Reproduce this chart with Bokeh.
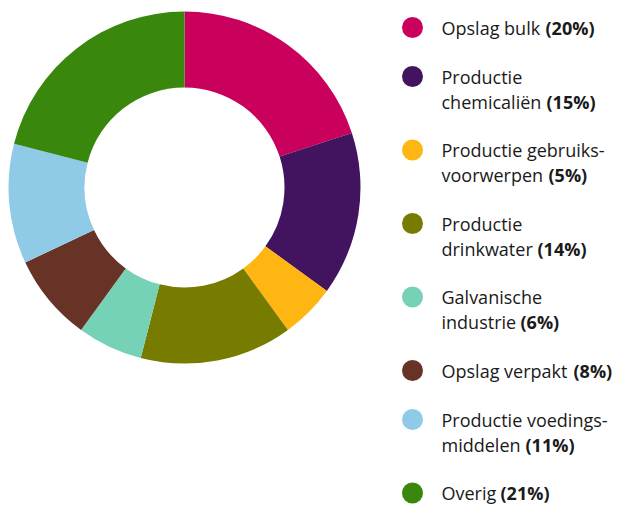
import numpy as np
from bokeh.plotting import figure
from bokeh.models import Range1d, ColumnDataSource
from bokeh.core.properties import value
from bokeh.embed import file_html
from bokeh.resources import INLINE

# ---- data ----
labels = ["Opslag bulk", "Productie\nchemicaliën", "Productie gebruiks-\nvoorwerpen",
          "Productie\ndrinkwater", "Galvanische\nindustrie", "Opslag verpakt",
          "Productie voedings-\nmiddelen", "Overig"]
shares = [20, 15, 5, 14, 6, 8, 11, 21]
colors = ["#CA005D", "#42145F", "#FFB612", "#777C00", "#76D2B6", "#673327", "#8FCAE7", "#39870C"]

# ---- layout (pixels in page coordinates) ----
W, H = 619, 509
def px(x): return x
def py(y): return H - y

FONT = "Open Sans"
FS = "18px"
TXT = "#1a1a1a"

p = figure(width=W, height=H, output_backend="svg", toolbar_location=None,
           x_range=Range1d(0, W), y_range=Range1d(0, H), min_border=0)
p.axis.visible = False
p.grid.visible = False
p.outline_line_color = None
p.background_fill_color = "white"
p.border_fill_color = "white"

vals = np.array(shares, dtype=float)
frac = vals / vals.sum()
cum_end = np.cumsum(frac)
cum_start = cum_end - frac
start = np.pi / 2 - 2 * np.pi * cum_end
end = np.pi / 2 - 2 * np.pi * cum_start

src = ColumnDataSource(dict(start=start, end=end, color=colors))
p.annular_wedge(x=px(184), y=py(187), inner_radius=100, outer_radius=176,
                start_angle="start", end_angle="end", direction="anticlock",
                fill_color="color", line_color=None, source=src)

# legend
pct_x = [545, 546, 548, 537, 520, 573, 525, 500]
y = 27.0
cx, cy, lines_t, lx, ly = [], [], [], [], []
bx, by, bt = [], [], []
for i, lab in enumerate(labels):
    parts = lab.split("\n")
    cx.append(px(412)); cy.append(py(y))
    for j, part in enumerate(parts):
        lines_t.append(part); lx.append(px(441)); ly.append(py(y + 25 * j))
    bt.append("(%d%%)" % shares[i]); bx.append(px(pct_x[i])); by.append(py(y + 25 * (len(parts) - 1)))
    y += 49 + 24.5 * (len(parts) - 1)

p.scatter(x=cx, y=cy, size=21, marker="circle", fill_color=colors, line_color=None)
p.text(x=lx, y=ly, text=lines_t, text_font=value(FONT), text_font_size=FS,
       text_baseline="middle", text_align="left", text_color=TXT)
p.text(x=bx, y=by, text=bt, text_font=value(FONT), text_font_size=FS,
       text_font_style="bold", text_baseline="middle", text_align="left", text_color=TXT)

open("out.html", "w").write(file_html(p, INLINE))
